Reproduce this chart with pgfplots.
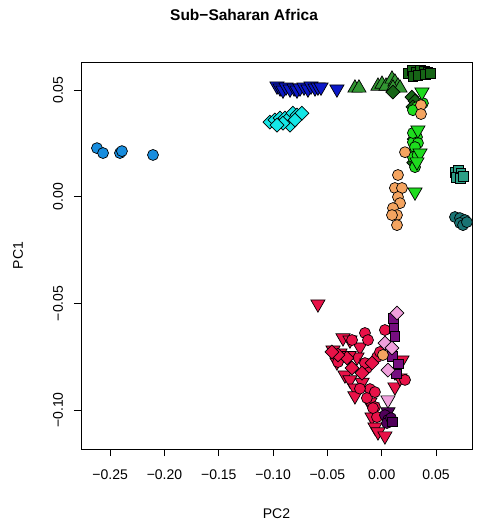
\documentclass[border=0pt]{standalone}
\usepackage{pgfplots}
\pgfplotsset{compat=1.18}
\usepackage{fontspec}
\setmainfont{Liberation Sans}
\definecolor{cBlue}{RGB}{24,141,222}
\definecolor{cNavy}{RGB}{12,24,200}
\definecolor{cCyan}{RGB}{20,230,230}
\definecolor{cGreen}{RGB}{50,150,50}
\definecolor{cDkGreen}{RGB}{22,100,22}
\definecolor{cLime}{RGB}{30,220,30}
\definecolor{cOrange}{RGB}{244,164,96}
\definecolor{cTeal}{RGB}{45,160,135}
\definecolor{cDkTeal}{RGB}{25,115,115}
\definecolor{cRed}{RGB}{232,18,72}
\definecolor{cPurple}{RGB}{118,14,128}
\definecolor{cPink}{RGB}{240,160,220}
\definecolor{cDkPurple}{RGB}{80,0,90}
\pgfplotsset{
  pc/.style={only marks, mark=*, mark size=5.5pt, mark options={draw=black, fill=#1, line width=0.7pt}},
  pt/.style={only marks, mark=triangle*, mark size=8.2pt, mark options={draw=black, fill=#1, line width=0.7pt}},
  pv/.style={only marks, mark=triangle*, mark size=8.2pt, mark options={rotate=180, draw=black, fill=#1, line width=0.7pt}},
  ps/.style={only marks, mark=square*, mark size=4.9pt, mark options={draw=black, fill=#1, line width=0.7pt}},
  pd/.style={only marks, mark=square*, mark size=4.9pt, mark options={rotate=45, draw=black, fill=#1, line width=0.7pt}},
}
\begin{document}
\begin{tikzpicture}
\useasboundingbox (-81pt,-77pt) rectangle (406pt,449pt);
\begin{axis}[
  scale only axis, width=391pt, height=387pt,
  xmin=-0.2769, xmax=0.0832, ymin=-0.1183, ymax=0.0632,
  xtick={-0.25,-0.2,-0.15,-0.1,-0.05,0,0.05},
  xticklabels={−0.25,−0.20,−0.15,−0.10,−0.05,0.00,0.05},
  ytick={-0.1,-0.05,0,0.05},
  yticklabels={−0.10,−0.05,0.00,0.05},
  tick pos=left, tick align=outside, major tick length=7pt,
  tick style={black, line width=0.6pt},
  axis line style={line width=0.7pt},
  ticklabel style={font=\fontsize{14}{16}\selectfont},
  xticklabel style={anchor=center, yshift=-19pt},
  yticklabel style={anchor=center, xshift=-16pt, rotate=90},
  title={Sub−Saharan Africa},
  title style={font=\fontsize{15.5}{18}\selectfont\bfseries, at={(axis description cs:0.417,1)}, anchor=center, yshift=41pt},
  xlabel={PC2}, ylabel={PC1},
  every axis x label/.style={at={(axis description cs:0.5,0)}, anchor=center, yshift=-65pt, font=\fontsize{14}{16}\selectfont},
  every axis y label/.style={at={(axis description cs:0,0.5)}, anchor=center, xshift=-63pt, rotate=90, font=\fontsize{14}{16}\selectfont},
  scaled ticks=false,
]
% blue circles
\addplot[pc=cBlue] coordinates {(-0.2622,0.0228) (-0.2566,0.0205) (-0.2410,0.0205) (-0.2392,0.0214) (-0.2106,0.0196)};
% cyan diamonds
\addplot[pd=cCyan] coordinates {(-0.1029,0.0350) (-0.0983,0.0360) (-0.0936,0.0369) (-0.0890,0.0369) (-0.0844,0.0374) (-0.0817,0.0392) (-0.0780,0.0383) (-0.0734,0.0392) (-0.0844,0.0336) (-0.0909,0.0345) (-0.0964,0.0336) (-0.0798,0.0360)};
% navy down triangles
\addplot[pv=cNavy] coordinates {(-0.0964,0.0519) (-0.0936,0.0510) (-0.0909,0.0500) (-0.0881,0.0514) (-0.0844,0.0505) (-0.0807,0.0510) (-0.0780,0.0500) (-0.0752,0.0510) (-0.0715,0.0514) (-0.0679,0.0505) (-0.0651,0.0519) (-0.0614,0.0510) (-0.0587,0.0514) (-0.0559,0.0514) (-0.0412,0.0505)};
% green up triangles
\addplot[pt=cGreen] coordinates {(-0.0246,0.0510) (-0.0209,0.0510) (-0.0034,0.0519) (0.0003,0.0528) (0.0040,0.0519) (0.0095,0.0552) (0.0122,0.0538) (0.0150,0.0519) (0.0104,0.0510) (0.0169,0.0510)};
% dark green squares and diamonds
\addplot[ps=cDkGreen] coordinates {(0.0242,0.0580) (0.0279,0.0594) (0.0316,0.0585) (0.0353,0.0594) (0.0390,0.0589) (0.0426,0.0585) (0.0288,0.0566) (0.0334,0.0571) (0.0399,0.0575) (0.0445,0.0580)};
\addplot[pd=cDkGreen] coordinates {(0.0104,0.0491) (0.0279,0.0467) (0.0307,0.0449) (0.0288,0.0421) (0.0300,0.0270) (0.0295,0.0160)};
% lime
\addplot[pc=cLime] coordinates {(0.0325,0.0280) (0.0288,0.0256) (0.0334,0.0252) (0.0307,0.0219) (0.0288,0.0186) (0.0307,0.0139) (0.0288,0.0299) (0.0325,0.0421) (0.0288,0.0406) (0.0380,0.0439) (0.0307,0.0233) (0.0330,0.0195)};
\addplot[pv=cLime] coordinates {(0.0371,0.0491) (0.0334,0.0313) (0.0353,0.0205) (0.0307,0.0022) (0.0325,0.0163)};
% orange circles
\addplot[pc=cOrange] coordinates {(0.0362,0.0430) (0.0362,0.0388) (0.0215,0.0209) (0.0150,0.0102) (0.0122,0.0041) (0.0187,0.0041) (0.0150,-0.0001) (0.0169,-0.0030) (0.0104,-0.0053) (0.0141,-0.0086) (0.0095,-0.0086) (0.0141,-0.0133)};
% teal squares
\addplot[ps=cTeal] coordinates {(0.0675,0.0116) (0.0703,0.0125) (0.0730,0.0111) (0.0684,0.0092) (0.0721,0.0088) (0.0749,0.0097)};
% dark teal circles
\addplot[pc=cDkTeal] coordinates {(0.0675,-0.0095) (0.0721,-0.0100) (0.0767,-0.0109) (0.0721,-0.0123) (0.0749,-0.0133) (0.0785,-0.0119)};
% red
\addplot[pv=cRed] coordinates {(-0.0587,-0.0503) (-0.0356,-0.0662) (-0.0292,-0.0672) (-0.0200,-0.0705) (-0.0448,-0.0719) (-0.0384,-0.0733) (-0.0227,-0.0752) (-0.0136,-0.0780) (-0.0412,-0.0775) (-0.0338,-0.0836) (-0.0292,-0.0859) (-0.0246,-0.0897) (-0.0246,-0.0934) (-0.0089,-0.0986) (-0.0089,-0.1033) (-0.0062,-0.1080) (-0.0034,-0.1103) (0.0030,-0.1122) (0.0122,-0.0892) (0.0187,-0.0766) (0.0169,-0.0850) (0.0122,-0.0822) (-0.0108,-0.0963) (-0.0300,-0.0745) (-0.0180,-0.0870)};
\addplot[pc=cRed] coordinates {(-0.0154,-0.0639) (-0.0273,-0.0672) (-0.0126,-0.0672) (-0.0043,-0.0752) (-0.0136,-0.0803) (-0.0402,-0.0775) (0.0030,-0.0625) (-0.0154,-0.0780) (-0.0108,-0.0902) (-0.0136,-0.0944) (-0.0062,-0.0916) (-0.0062,-0.0986) (-0.0043,-0.1033) (-0.0016,-0.0728) (0.0215,-0.0859) (-0.0080,-0.0991) (-0.0200,-0.0900)};
\addplot[pd=cRed] coordinates {(-0.0320,-0.0756) (-0.0402,-0.0742) (-0.0458,-0.0728) (-0.0089,-0.0780) (-0.0273,-0.0803) (-0.0181,-0.0827)};
% purple squares
\addplot[ps=cPurple] coordinates {(0.0104,-0.0569) (0.0113,-0.0616) (0.0122,-0.0653) (0.0095,-0.0747) (0.0150,-0.0784) (0.0132,-0.0831)};
% pink
\addplot[pd=cPink] coordinates {(0.0141,-0.0545) (0.0030,-0.0686) (0.0095,-0.0709) (0.0058,-0.0813)};
\addplot[pc=cOrange] coordinates {(0.0012,-0.0742)};
\addplot[pv=cPink] coordinates {(0.0058,-0.0953)};
% dark purple
\addplot[pv=cDkPurple] coordinates {(0.0058,-0.1009)};
\addplot[pc=cDkPurple] coordinates {(0.0030,-0.1024) (0.0058,-0.1047) (0.0049,-0.1061) (0.0086,-0.1038)};
\addplot[ps=cDkPurple] coordinates {(0.0095,-0.1056)};
\end{axis}
\end{tikzpicture}
\end{document}
